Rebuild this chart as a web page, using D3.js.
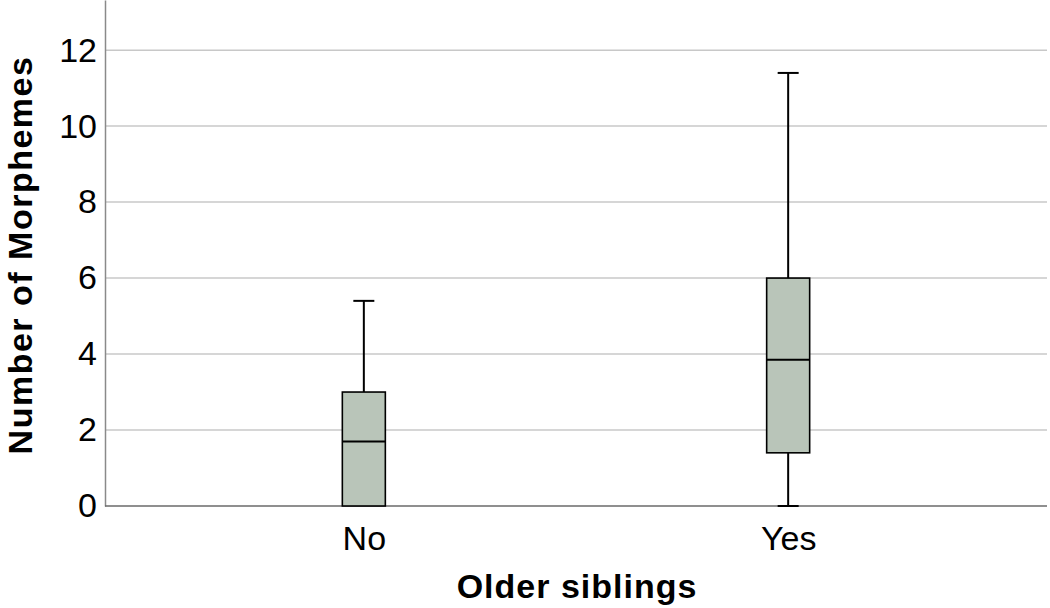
<!DOCTYPE html>
<html lang="en">
<head>
<meta charset="utf-8">
<title>Boxplot</title>
<script src="https://cdn.jsdelivr.net/npm/d3@7"></script>
<style>
  body { margin: 0; background: #fff; }
  text { font-family: "Liberation Sans", Arial, sans-serif; }
</style>
</head>
<body>
<script>
// data
var groups = ["No", "Yes"];
var whiskLow = [0, 0];
var q1 = [0, 1.4];
var median = [1.7, 3.85];
var q3 = [3, 6];
var whiskHigh = [5.4, 11.4];
var yTicks = [0, 2, 4, 6, 8, 10, 12];

var w = 1050, h = 608;
var plotLeft = 105, plotRight = 1047, plotTop = 0, plotBottom = 506;

var svg = d3.select("body").append("svg")
    .attr("width", w).attr("height", h);

var x = d3.scalePoint().domain(groups).range([plotLeft, plotRight]).padding(0.61);
var y = d3.scaleLinear().domain([0, 13.32]).range([plotBottom, plotTop]);

// grid lines
svg.append("g").selectAll("line")
    .data(yTicks.filter(d => d > 0))
    .enter().append("line")
    .attr("x1", plotLeft).attr("x2", plotRight)
    .attr("y1", d => y(d)).attr("y2", d => y(d))
    .attr("stroke", "#c8c8c8").attr("stroke-width", 1.5);

// y axis
var yAxis = d3.axisLeft(y).tickValues(yTicks).tickSize(0).tickPadding(8);
var gy = svg.append("g").attr("transform", "translate(" + plotLeft + ",0)").call(yAxis);
gy.select(".domain").attr("stroke", "#8a8a8a").attr("stroke-width", 1.5);
gy.selectAll("text").attr("font-size", 34).attr("fill", "#000")
    .attr("font-family", "Liberation Sans, Arial, sans-serif");

// x axis
var xAxis = d3.axisBottom(x).tickSize(0).tickPadding(20);
var gx = svg.append("g").attr("transform", "translate(0," + plotBottom + ")").call(xAxis);
gx.select(".domain").attr("d", "M" + plotLeft + ",0H" + plotRight)
    .attr("stroke", "#6a6a6a").attr("stroke-width", 1.5);
gx.selectAll("text").attr("font-size", 34).attr("fill", "#000")
    .attr("font-family", "Liberation Sans, Arial, sans-serif");

// boxes
var boxW = 43, capW = 21, lw = 2;
var idx = d3.range(groups.length);
var bx = svg.append("g").selectAll("g").data(idx).enter().append("g");

bx.append("line")
    .attr("x1", i => x(groups[i])).attr("x2", i => x(groups[i]))
    .attr("y1", i => y(whiskHigh[i])).attr("y2", i => y(q3[i]))
    .attr("stroke", "#000").attr("stroke-width", lw);
bx.filter(i => whiskLow[i] < q1[i]).append("line")
    .attr("x1", i => x(groups[i])).attr("x2", i => x(groups[i]))
    .attr("y1", i => y(q1[i])).attr("y2", i => y(whiskLow[i]))
    .attr("stroke", "#000").attr("stroke-width", lw);
bx.append("line")
    .attr("x1", i => x(groups[i]) - capW / 2).attr("x2", i => x(groups[i]) + capW / 2)
    .attr("y1", i => y(whiskHigh[i])).attr("y2", i => y(whiskHigh[i]))
    .attr("stroke", "#000").attr("stroke-width", lw);
bx.filter(i => whiskLow[i] < q1[i]).append("line")
    .attr("x1", i => x(groups[i]) - capW / 2).attr("x2", i => x(groups[i]) + capW / 2)
    .attr("y1", i => y(whiskLow[i])).attr("y2", i => y(whiskLow[i]))
    .attr("stroke", "#000").attr("stroke-width", lw);
bx.append("rect")
    .attr("x", i => x(groups[i]) - boxW / 2).attr("width", boxW)
    .attr("y", i => y(q3[i])).attr("height", i => y(q1[i]) - y(q3[i]))
    .attr("fill", "#b9c5b9").attr("stroke", "#000").attr("stroke-width", 1.6);
bx.append("line")
    .attr("x1", i => x(groups[i]) - boxW / 2).attr("x2", i => x(groups[i]) + boxW / 2)
    .attr("y1", i => y(median[i])).attr("y2", i => y(median[i]))
    .attr("stroke", "#000").attr("stroke-width", 2);

// axis titles
svg.append("text")
    .attr("x", 577).attr("y", 598)
    .attr("text-anchor", "middle")
    .attr("font-size", 34).attr("font-weight", "bold")
    .attr("letter-spacing", 1)
    .text("Older siblings");
svg.append("text")
    .attr("transform", "translate(32,255) rotate(-90)")
    .attr("text-anchor", "middle")
    .attr("font-size", 34).attr("font-weight", "bold")
    .attr("letter-spacing", 1.5)
    .text("Number of Morphemes");
</script>
</body>
</html>
